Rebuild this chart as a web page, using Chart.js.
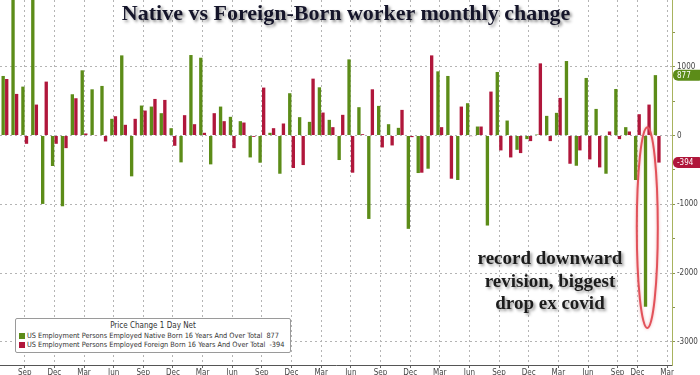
<!DOCTYPE html>
<html>
<head>
<meta charset="utf-8">
<title>Native vs Foreign-Born worker monthly change</title>
<script src="https://cdn.jsdelivr.net/npm/chart.js"></script>
<style>
  body { margin: 0; background: #fff; }
  #wrap { position: relative; width: 700px; height: 375px; overflow: hidden; }
  #title {
    position: absolute; left: 0; width: 692px; top: 0px; text-align: center;
    font: bold 22px "Liberation Serif", "DejaVu Serif", serif; color: #15152a;
    text-shadow: 2px 2px 3px rgba(0,0,0,0.45); pointer-events: none;
  }
  #note {
    position: absolute; left: 470px; width: 160px; top: 247px; text-align: center;
    font: bold 19px/22.5px "Liberation Serif", "DejaVu Serif", serif; color: #1c1c1c;
    text-shadow: 2px 2px 3px rgba(0,0,0,0.4); pointer-events: none;
  }
  #legend {
    position: absolute; left: 15px; top: 318px; width: 268px; height: 33px;
    padding: 0 3px; background: #fff; border: 1px solid #9a9a9a; border-radius: 2px;
    font: 7.3px "DejaVu Sans Condensed", "Liberation Sans", sans-serif; color: #333;
    white-space: nowrap; overflow: hidden;
  }
  #legend .head { text-align: center; line-height: 10px; margin-top: 2px; font-size: 8px; }
  #legend .row { display: flex; align-items: center; line-height: 9px; height: 9px; }
  #legend .sw { width: 6px; height: 6px; margin-right: 2px; flex: none; }
  #legend .val { margin-left: 4px; }
</style>
</head>
<body>
<div id="wrap">
  <canvas id="chart" width="700" height="375"></canvas>
  <div id="title">Native vs Foreign-Born worker monthly change</div>
  <div id="note">record downward<br>revision, biggest<br>drop ex covid</div>
  <div id="legend"></div>
</div>
<script>
// #############################################################################
// Data (thousands, monthly change)

const nativeBorn = [
  865, 2500, 710, 2300, -995, -444, -1029, 599, 947, 671,
  720, 242, 1164, -594, 435, 420, 324, 106, -391, 1169,
  1130, -420, 420, 271, 208, -319, -396, 39, -556, 614,
  266, 198, 700, 227, -357, 1106, 411, -1213, 430, 164,
  111, -1357, -546, -483, 932, 865, -647, 469, 130, -1309,
  923, 217, -208, -53, 14, 285, 329, 1082, -440, 836,
  386, -556, 676, 121, -647, -2488, 877
];
const foreignBorn = [
  821, 604, -121, 449, 783, -121, -184, 541, 29, 5,
  -87, 280, 155, 242, 362, 531, 517, -150, 295, 164,
  39, 324, 208, -184, 188, -20, 696, 106, 174, -473,
  -430, 826, 333, 121, 300, -541, 19, 671, -174, -145,
  372, -24, -541, 1164, 121, -628, 420, -10, 130, 638,
  -217, -319, -256, -82, 1048, -82, 546, -411, -217, -348,
  -464, 58, -53, 58, 309, 449, -394
];

// Month labels shown on the x axis and the bar slot each sits under
const tickLabels = [
  "Sep", "Dec", "Mar", "Jun", "Sep", "Dec", "Mar", "Jun", "Sep", "Dec", "Mar", "Jun",
  "Sep", "Dec", "Mar", "Jun", "Sep", "Dec", "Mar", "Jun", "Sep", "Dec", "Mar"
];
const tickSlots = [
  2, 5, 8, 11, 14, 17, 20, 23, 26, 29, 32, 35,
  38, 41, 44, 47, 50, 53, 56, 59, 62, 64, 67
];

// y axis: minor ticks every 500, labels every 1000
const yTicks = [-3000, -2500, -2000, -1500, -1000, -500, 0, 500, 1000, 1500];

const seriesNames = [
  "US Employment Persons Employed Native Born 16 Years And Over Total",
  "US Employment Persons Employed Foreign Born 16 Years And Over Total"
];
const legendTitle = "Price Change 1 Day Net";

const yMin = -3336;
const yMax = 1969;
const dropSlot = 65;            // the circled month
const ringRange = [120, -2800]; // vertical extent of the red ring (value units)

const green = "#5c8c18";
const red = "#b0173b";

// one extra empty slot at the right edge, like the original
const slots = Array.from({ length: nativeBorn.length + 1 }, (_, i) => i);

// #############################################################################
// Legend

const legendEl = document.getElementById("legend");
legendEl.innerHTML = `<div class="head">${legendTitle}</div>`;
[[seriesNames[0], green, nativeBorn], [seriesNames[1], red, foreignBorn]].forEach(([name, color, values]) => {
  const row = document.createElement("div");
  row.className = "row";
  row.innerHTML = `<span class="sw" style="background:${color}"></span><span>${name}</span><span class="val">${values[values.length - 1]}</span>`;
  legendEl.appendChild(row);
});

// #############################################################################
// Ring + last value badges

const overlayPlugin = {
  id: "overlay",
  afterDatasetsDraw(chart) {
    const { ctx, scales: { x, y } } = chart;
    const cx = x.getPixelForValue(dropSlot);
    const top = y.getPixelForValue(ringRange[0]);
    const bottom = y.getPixelForValue(ringRange[1]);
    ctx.save();
    ctx.strokeStyle = "#e2525a";
    ctx.lineWidth = 2;
    ctx.shadowColor = "rgba(226,82,90,0.5)";
    ctx.shadowBlur = 3;
    ctx.beginPath();
    ctx.ellipse(cx, (top + bottom) / 2, 10.5, (bottom - top) / 2, 0, 0, Math.PI * 2);
    ctx.stroke();
    ctx.restore();
  },
  afterDraw(chart) {
    const { ctx, chartArea, scales: { y } } = chart;
    const badges = [
      [nativeBorn[nativeBorn.length - 1], green],
      [foreignBorn[foreignBorn.length - 1], red]
    ];
    ctx.save();
    badges.forEach(([value, color]) => {
      const py = y.getPixelForValue(value);
      const x0 = chartArea.right + 1;
      ctx.fillStyle = color;
      ctx.beginPath();
      ctx.roundRect(x0, py - 5.5, 700 - x0 + 4, 11, 5);
      ctx.fill();
      ctx.fillStyle = "#fff";
      ctx.font = "8px 'DejaVu Sans Condensed', sans-serif";
      ctx.textAlign = "left";
      ctx.textBaseline = "middle";
      ctx.fillText(String(value), x0 + 4, py + 0.5);
    });
    ctx.restore();
  }
};

// #############################################################################
// Chart

const tickFont = { family: "'DejaVu Sans Condensed', sans-serif", size: 8 };

const ctx = document.getElementById("chart").getContext("2d");
const chart = new Chart(ctx, {
  type: "bar",
  data: {
    labels: slots,
    datasets: [
      { label: seriesNames[0], data: nativeBorn, backgroundColor: green },
      { label: seriesNames[1], data: foreignBorn, backgroundColor: red }
    ]
  },
  options: {
    responsive: false,
    animation: false,
    layout: { padding: 0, autoPadding: false },
    datasets: { bar: { categoryPercentage: 0.72, barPercentage: 0.94 } },
    plugins: { legend: { display: false }, tooltip: { enabled: false } },
    scales: {
      x: {
        afterBuildTicks: (axis) => {
          axis.ticks = axis.ticks.filter((t) => tickSlots.includes(t.value));
        },
        afterFit: (axis) => {
          axis.height = 10;
          axis.paddingLeft = 0;
          axis.paddingRight = 0;
        },
        ticks: {
          autoSkip: false,
          maxRotation: 0,
          padding: 0,
          color: "#444",
          font: tickFont,
          callback: (value) => tickLabels[tickSlots.indexOf(value)]
        },
        grid: { offset: false, color: "#b4b4b4", tickLength: 3, tickColor: "#666" },
        border: { color: "#555", dash: [2, 3] }
      },
      y: {
        position: "right",
        min: yMin,
        max: yMax,
        afterBuildTicks: (axis) => {
          axis.ticks = yTicks.map((v) => ({ value: v }));
        },
        afterFit: (axis) => {
          axis.width = 28;
          axis.paddingTop = 0;
          axis.paddingBottom = 0;
        },
        ticks: {
          padding: 2,
          color: "#444",
          font: tickFont,
          callback: (value) => (value % 1000 === 0 ? value : "")
        },
        grid: {
          color: (c) => (c.tick && c.tick.value % 1000 === 0 ? "#b4b4b4" : "rgba(0,0,0,0)"),
          tickLength: 3,
          tickColor: "#8a9450"
        },
        border: { color: "#a8b35e", dash: [2, 3] }
      }
    }
  },
  plugins: [overlayPlugin]
});
</script>
</body>
</html>
